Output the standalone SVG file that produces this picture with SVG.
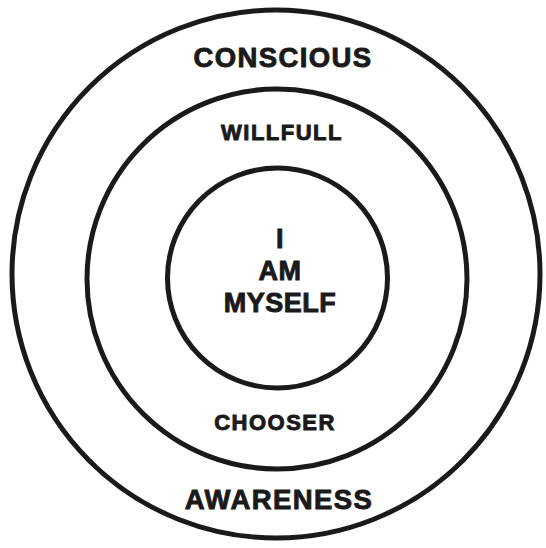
<svg xmlns="http://www.w3.org/2000/svg" width="546" height="548" viewBox="0 0 546 548">
<style>
.ring{fill:none;stroke:#1a1a1a;stroke-width:5}
.t{font-family:"Liberation Sans",Arial,sans-serif;font-weight:bold;fill:#1a1a1a;stroke:#1a1a1a;stroke-width:0.9;text-anchor:middle}
.big{font-size:27.5px;letter-spacing:1.4px}
.mid{font-size:22px;letter-spacing:1.5px}
.core{font-size:27px;letter-spacing:0.5px}
</style>
<rect width="546" height="548" fill="#ffffff"/>
<g id="outer">
<circle class="ring" cx="276" cy="274" r="264"/>
<text class="t big" x="283" y="67">CONSCIOUS</text>
<text class="t big" x="279" y="509">AWARENESS</text>
</g>
<g id="middle">
<circle class="ring" cx="277" cy="279" r="190"/>
<text class="t mid" x="282" y="140">WILLFULL</text>
<text class="t mid" x="275" y="430">CHOOSER</text>
</g>
<g id="inner">
<circle class="ring" cx="277.5" cy="278" r="110"/>
<text class="t core" x="280" y="248">I</text>
<text class="t core" x="280" y="280">AM</text>
<text class="t core" x="280" y="312">MYSELF</text>
</g>
<g id="connectors"></g>
</svg>
